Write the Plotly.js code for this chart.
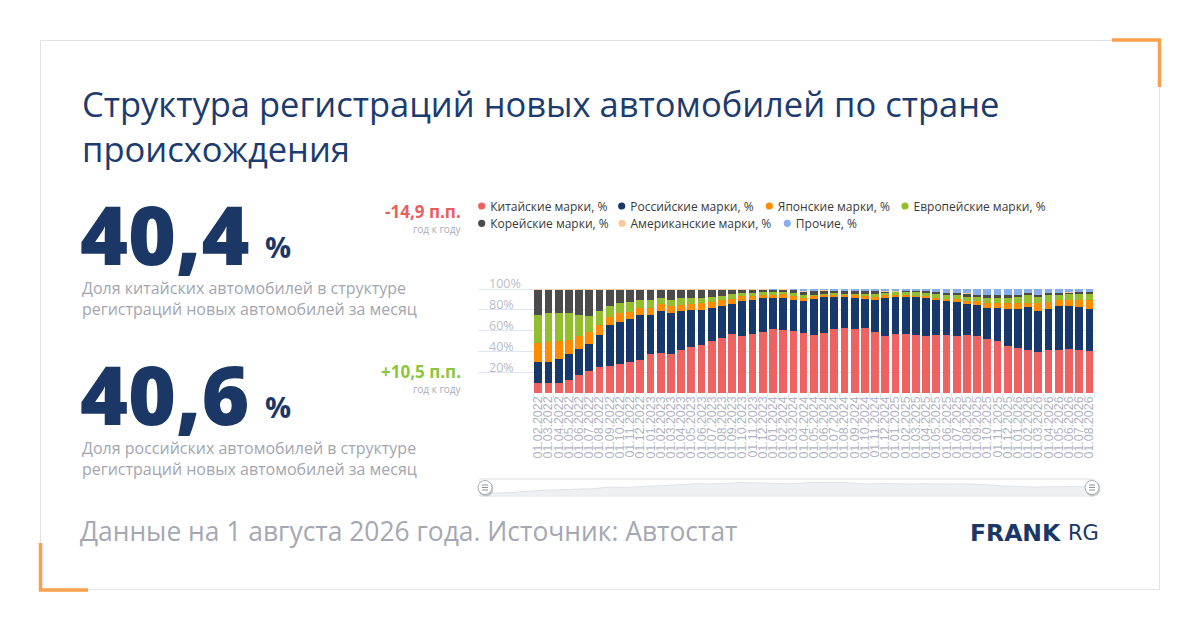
<!DOCTYPE html>
<html>
<head>
<meta charset="utf-8">
<script src="https://cdn.plot.ly/plotly-3.0.1.min.js"></script>
<style>
html,body{margin:0;padding:0;background:#ffffff;}
#chart{width:1200px;height:630px;}
</style>
</head>
<body>
<div id="chart"></div>
<script>
// ---------- DATA ----------
const categories = [
 '01.02.2022','01.03.2022','01.04.2022','01.05.2022','01.06.2022','01.07.2022','01.08.2022','01.09.2022','01.10.2022','01.11.2022','01.12.2022',
 '01.01.2023','01.02.2023','01.03.2023','01.04.2023','01.05.2023','01.06.2023','01.07.2023','01.08.2023','01.09.2023','01.10.2023','01.11.2023','01.12.2023',
 '01.01.2024','01.02.2024','01.03.2024','01.04.2024','01.05.2024','01.06.2024','01.07.2024','01.08.2024','01.09.2024','01.10.2024','01.11.2024','01.12.2024',
 '01.01.2025','01.02.2025','01.03.2025','01.04.2025','01.05.2025','01.06.2025','01.07.2025','01.08.2025','01.09.2025','01.10.2025','01.11.2025','01.12.2025',
 '01.01.2026','01.02.2026','01.03.2026','01.04.2026','01.05.2026','01.06.2026','01.07.2026','01.08.2026'
];
const chinese  = [9.9,9.9,9.9,12.8,17.6,21.5,24.7,26.3,27.6,30.1, 31.7,37.5,38.8,37.2,41.3,44.6,46.3,50.0,52.6,56.7, 54.8,56.4,58.7,61.9,60.6,59.6,58.0,55.8,57.6,62.0, 62.3,61.7,62.5,58.5,55.0,56.4,56.8,55.8,54.5,56.1, 55.4,54.5,55.3,54.8,52.2,50.2,45.2,43.3,41.5,39.4, 41.3,41.7,42.6,41.3,40.4];
const russian  = [20.2,20.2,23.1,25.0,25.0,25.3,31.4,39.1,41.0,41.4, 43.6,37.2,40.4,39.8,37.5,35.4,33.7,31.8,31.1,29.0, 33.8,33.0,32.6,29.4,30.7,30.0,30.1,34.6,34.7,30.3, 30.0,30.0,27.9,30.6,36.3,35.9,35.5,36.5,36.6,33.3, 33.1,33.0,30.1,29.8,29.8,31.8,35.7,37.6,41.2,39.8, 39.8,42.0,41.0,41.0,40.6];
const japanese = [18.3,18.6,17.3,13.2,12.2,11.5,9.6,8.0,8.0,6.7, 6.1,6.7,6.1,6.3,6.3,6.0,6.2,6.0,5.7,5.0, 4.5,4.3,3.1,3.3,3.5,4.0,3.6,2.5,1.9,1.9, 1.9,2.2,2.5,3.2,2.9,2.3,1.9,1.3,1.9,1.6, 1.9,3.2,3.5,4.2,4.9,4.5,5.3,5.3,4.0,7.7, 6.7,5.7,5.8,7.4,8.7];
const european = [26.9,27.9,26.6,25.6,20.2,16.1,13.1,10.3,9.6,9.3, 7.7,7.7,6.0,6.1,5.9,5.5,5.3,4.8,4.2,4.3, 3.2,2.8,2.4,2.5,2.3,2.6,2.5,1.6,1.0,1.6, 1.0,1.3,2.0,2.6,2.0,2.2,2.6,3.2,3.6,3.9, 3.8,3.5,3.8,3.5,4.1,5.2,5.5,5.8,7.6,5.7, 6.8,5.2,5.5,5.5,5.5];
const korean   = [24.2,22.9,22.6,22.9,24.5,25.1,20.7,15.8,13.3,12.0, 10.4,10.4,8.2,10.1,8.5,8.0,8.0,6.9,5.9,4.5, 3.2,3.0,2.7,2.1,2.2,2.5,3.3,3.3,3.1,2.2, 2.8,2.8,3.1,3.1,1.2,0.6,1.2,1.2,1.2,1.9, 2.0,2.0,2.9,1.9,3.2,2.5,2.5,2.2,1.6,1.3, 1.3,1.6,1.6,1.9,1.6];
const american = [0.5,0.5,0.5,0.5,0.5,0.5,0.5,0.5,0.5,0.5, 0.5,0.5,0.5,0.5,0.5,0.5,0.5,0.5,0.5,0.5, 0.5,0.5,0.5,0.3,0.3,0.3,0.3,0.3,0.3,0.3, 0.3,0.3,0.3,0.3,0.3,0.3,0.3,0.3,0.3,0.3, 0.3,0.3,0.3,0.3,0.3,0.3,0.3,0.3,0.3,0.5, 0.3,0.3,0.3,0.3,0.3];
const other    = [0,0,0,0,0,0,0,0,0,0, 0,0,0,0,0,0,0,0,0,0, 0,0,0,0.5,0.4,1.0,2.2,1.9,1.4,1.7, 1.7,1.7,1.7,1.7,2.3,2.3,1.7,1.7,1.9,2.9, 3.5,3.5,4.1,5.5,5.5,5.5,5.5,5.5,3.8,5.6, 3.8,3.5,3.2,2.6,2.9];
const seriesNames = ['Китайские марки, %','Российские марки, %','Японские марки, %','Европейские марки, %','Корейские марки, %','Американские марки, %','Прочие, %'];
const yTickVals = [0,20,40,60,80,100];
const yTickText = ['','20%','40%','60%','80%','100%'];
const chinaShare = '40,4';
const russiaShare = '40,6';
const chinaDelta = '-14,9 п.п.';
const russiaDelta = '+10,5 п.п.';

// ---------- STYLE ----------
const colors = ['#ee6262','#17386a','#ff8c00','#93bf2f','#4b4b4b','#fdc99a','#87aee8'];
const seriesValues = [chinese,russian,japanese,european,korean,american,other];
const W = 1200, H = 630;
const M = {l:478, r:105, t:275, b:130};
const PW = W - M.l - M.r, PH = H - M.t - M.b;
const px = x => (x - M.l) / PW;
const py = y => (H - M.b - y) / PH;
const navy = '#1b3766';
const grid = '#e0e6f1';
// y scale: 0 at 393px, 100 at 289px, plot top at 275px
const yTop = 100 * (393 - M.t) / (393 - 289);

const traces = [];
seriesValues.forEach((vals, i) => {
  traces.push({
    type:'bar', x:categories, y:vals, name:seriesNames[i],
    marker:{color:colors[i], line:{width:0}},
    legendgroup:'g'+i, showlegend:false, xaxis:'x', yaxis:'y',
    hoverinfo:'x+y+name'
  });
});
// legend entries (the round dots are drawn beside the text as shapes)
seriesValues.forEach((vals, i) => {
  traces.push({
    type:'scatter', mode:'markers', x:[null], y:[null], name:seriesNames[i],
    marker:{color:'rgba(0,0,0,0)', size:7, symbol:'circle', line:{width:0}},
    legendgroup:'g'+i, showlegend:true, legend: i === 0 ? 'legend' : 'legend' + (i+1),
    xaxis:'x', yaxis:'y', hoverinfo:'skip'
  });
});
// slider preview area
traces.push({
  type:'scatter', mode:'lines', x:categories, y:chinese, xaxis:'x2', yaxis:'y2',
  fill:'tozeroy', fillcolor:'#eef0f4', line:{color:'#dfe2e8', width:1, shape:'spline'},
  showlegend:false, hoverinfo:'skip'
});

// legend dot x, text x, y
const legendPos = [
  [481.7,490.2,206],[621.7,630.2,206],[769.3,777.8,206],[905,913.5,206],
  [481.7,490.2,223.3],[622,630.5,223.3],[787.3,795.8,223.3]
];
const layout = {
  width:W, height:H,
  margin:M,
  paper_bgcolor:'#ffffff', plot_bgcolor:'rgba(0,0,0,0)',
  font:{family:'Open Sans, sans-serif', color:'#333'},
  barmode:'stack', bargap:0.24,
  title:{
    text:'Структура регистраций новых автомобилей по стране<br>происхождения',
    xref:'container', yref:'container', x:82/W, xanchor:'left',
    y:1 - 117/H, yanchor:'top',
    font:{family:'Open Sans, sans-serif', size:34.5, color:'#1c3b6e'}
  },
  xaxis:{
    type:'category', range:[-5.9, 54.55], domain:[0,1], anchor:'y',
    tickmode:'array', tickvals:categories, ticktext:categories,
    tickangle:-90, tickfont:{family:'Liberation Sans, Arial, sans-serif', size:12.4, color:'#b1b5c3'},
    ticks:'outside', ticklen:4, tickcolor:grid, tickson:'boundaries',
    showgrid:false, showline:false, zeroline:false, fixedrange:true
  },
  yaxis:{
    domain:[py(393), 1], anchor:'x', range:[0, yTop],
    tickmode:'array', tickvals:yTickVals, ticktext:yTickText,
    ticklabelposition:'inside', ticklabelstandoff:8, ticklabelshift:-5,
    tickfont:{family:'Open Sans, sans-serif', size:12.5, color:'#b9bdc9'},
    gridcolor:grid, gridwidth:1, zeroline:false, showline:false, ticks:'', fixedrange:true
  },
  xaxis2:{type:'category', domain:[px(480), px(1093)], anchor:'y2', range:[0, categories.length-1], visible:false, fixedrange:true},
  yaxis2:{domain:[py(496), py(479)], anchor:'x2', range:[-5, 80], visible:false, fixedrange:true},
  shapes:[],
  annotations:[]
};

const S = layout.shapes;
legendPos.forEach((p, i) => {
  const key = i === 0 ? 'legend' : 'legend' + (i+1);
  layout[key] = {
    orientation:'h', x:px(p[1]-40), xanchor:'left', y:py(p[2]), yanchor:'middle',
    font:{family:'Open Sans, sans-serif', size:12, color:'#3a3a3a'},
    bgcolor:'rgba(0,0,0,0)', borderwidth:0, itemclick:false, itemdoubleclick:false
  };
  const r = 3.6;
  S.push({type:'circle', xref:'paper', yref:'paper', x0:px(p[0]-r), x1:px(p[0]+r), y0:py(p[2]+r), y1:py(p[2]-r), fillcolor:colors[i], line:{width:0}});
});

// decorations
S.push({type:'rect', xref:'paper', yref:'paper', x0:px(40.5), x1:px(1159.5), y0:py(40.5), y1:py(589.5), line:{color:'#e2e2e2', width:1}, layer:'below'});
S.push({type:'path', xref:'paper', yref:'paper', path:`M ${px(1112)},${py(40)} L ${px(1159.5)},${py(40)} L ${px(1159.5)},${py(87)}`, line:{color:'#f8a14c', width:3.5}});
S.push({type:'path', xref:'paper', yref:'paper', path:`M ${px(40.5)},${py(543)} L ${px(40.5)},${py(590)} L ${px(88)},${py(590)}`, line:{color:'#f8a14c', width:3.5}});
// slider frame
S.push({type:'rect', xref:'paper', yref:'paper', x0:px(480), x1:px(1093), y0:py(496), y1:py(479), line:{color:'#dadde4', width:1}});
// slider handles
[485, 1092].forEach(cx => {
  const cy = 487.5, r = 7;
  S.push({type:'circle', xref:'paper', yref:'paper', x0:px(cx-r+0.5), x1:px(cx+r+1.5), y0:py(cy+r+2), y1:py(cy-r+0.5), fillcolor:'rgba(0,0,0,0.18)', line:{width:0}});
  S.push({type:'circle', xref:'paper', yref:'paper', x0:px(cx-r), x1:px(cx+r), y0:py(cy+r), y1:py(cy-r), fillcolor:'#ffffff', line:{color:'#a9adb6', width:1}});
  [-2.5,0,2.5].forEach(d => {
    S.push({type:'line', xref:'paper', yref:'paper', x0:px(cx-3), x1:px(cx+3), y0:py(cy+d), y1:py(cy+d), line:{color:'#8d919b', width:1}});
  });
});

// texts
const A = layout.annotations;
function ann(text, x, y, xanchor, font) {
  A.push({text, x:px(x), y:py(y), xref:'paper', yref:'paper', xanchor, yanchor:'middle', showarrow:false, align:xanchor === 'right' ? 'right' : 'left', font});
}
const OS = 'Open Sans, sans-serif';
[
  {val:chinaShare, delta:chinaDelta, dcol:'#ec5e5e', lines:'Доля китайских автомобилей в структуре<br>регистраций новых автомобилей за месяц', off:0},
  {val:russiaShare, delta:russiaDelta, dcol:'#8cc63f', lines:'Доля российских автомобилей в структуре<br>регистраций новых автомобилей за месяц', off:160}
].forEach(b => {
  ann(b.val, 78, 233 + b.off, 'left', {family:OS, size:82, weight:800, color:navy});
  ann('%', 263, 246 + b.off, 'left', {family:OS, size:29, weight:700, color:navy});
  ann(b.delta, 463, 211 + b.off, 'right', {family:OS, size:17, weight:700, color:b.dcol});
  ann('год к году', 464, 229 + b.off, 'right', {family:OS, size:10, color:'#a9adb8'});
  ann(b.lines, 80, 298 + b.off, 'left', {family:OS, size:16, color:'#a3a6b0'});
});
ann('Данные на 1 августа 2026 года. Источник: Автостат', 78, 531, 'left', {family:OS, size:26.4, color:'#a5a8b2'});
ann('FRANK', 968, 533, 'left', {family:'DejaVu Sans, sans-serif', size:23.5, weight:700, color:navy});
ann('RG', 1101, 533, 'right', {family:'DejaVu Sans, sans-serif', size:21, color:navy});

Plotly.newPlot('chart', traces, layout, {staticPlot:true, displayModeBar:false});
</script>
</body>
</html>
